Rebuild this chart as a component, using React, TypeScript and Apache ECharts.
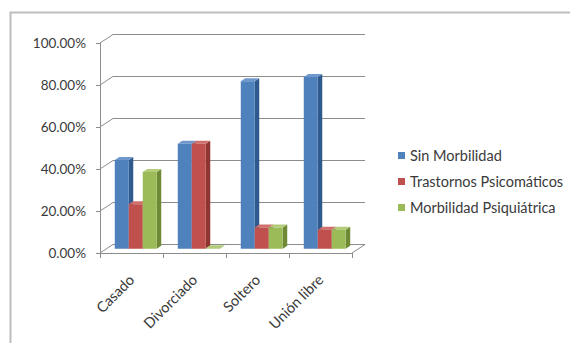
import React, { useEffect, useRef } from "react";
import * as echarts from "echarts";

const categories = ["Casado", "Divorciado", "Soltero", "Unión libre"];
const seriesNames = ["Sin Morbilidad", "Trastornos Psicomáticos", "Morbilidad Psiquiátrica"];
const sinMorbilidad = [42.3, 50.0, 79.8, 81.8];
const trastornosPsicomaticos = [21.2, 50.0, 10.1, 9.1];
const morbilidadPsiquiatrica = [36.5, 0.0, 10.1, 9.1];
const yTicks = [0, 20, 40, 60, 80, 100];

// front, side, top shades for each series
const palette = [
  { front: "#4F81BD", side: "#2F5A8E", top: "#6F98CC" },
  { front: "#C0504D", side: "#8E3431", top: "#D0706D" },
  { front: "#9BBB59", side: "#6F8A35", top: "#B2CC7A" },
];

// depth of the bars and of the plot walls
const BAR_DX = 4.5;
const BAR_DY = 3;
const WALL_DX = 13;
const WALL_DY = 8.5;

const FONT = "Lato, 'Open Sans', sans-serif";
const TEXT = "#3a3a3a";
const LINE = "#8c8c8c";

function barRenderer(index: number) {
  const c = palette[index];
  return (params: any, api: any) => {
    const cat = api.value(0);
    const val = api.value(1);
    const base = api.coord([cat, 0]);
    const topPt = api.coord([cat, val]);
    const band = api.size([1, 0])[0];
    const w = band * 0.222;
    const groupLeft = base[0] - (3 * w) / 2 - BAR_DX / 2;
    const x0 = groupLeft + index * w;
    const x1 = x0 + w;
    const yb = base[1];
    const yt = Math.min(topPt[1], yb - 0.5);
    return {
      type: "group",
      children: [
        {
          type: "polygon",
          shape: { points: [[x1, yt], [x1 + BAR_DX, yt - BAR_DY], [x1 + BAR_DX, yb - BAR_DY], [x1, yb]] },
          style: { fill: c.side },
        },
        {
          type: "polygon",
          shape: { points: [[x0, yt], [x0 + BAR_DX, yt - BAR_DY], [x1 + BAR_DX, yt - BAR_DY], [x1, yt]] },
          style: { fill: c.top },
        },
        {
          type: "rect",
          shape: { x: x0, y: yt, width: w, height: yb - yt },
          style: { fill: c.front },
        },
      ],
    };
  };
}

function wallRenderer(params: any, api: any) {
  const v = api.value(1);
  const y = api.coord([0, v])[1];
  const cs = params.coordSys;
  const children: any[] = [
    {
      type: "line",
      shape: { x1: cs.x, y1: y, x2: cs.x + WALL_DX, y2: y - WALL_DY },
      style: { stroke: LINE, lineWidth: 1 },
    },
  ];
  if (v === 0) {
    children.push({
      type: "line",
      shape: { x1: cs.x + cs.width, y1: y, x2: cs.x + cs.width + WALL_DX, y2: y - WALL_DY },
      style: { stroke: LINE, lineWidth: 1 },
    });
  }
  return { type: "group", children };
}

export default function App() {
  const ref = useRef<HTMLDivElement>(null);

  useEffect(() => {
    document.body.style.margin = "0";
    if (!ref.current) return;
    const chart = echarts.init(ref.current, undefined, { renderer: "svg" });
    const values = [sinMorbilidad, trastornosPsicomaticos, morbilidadPsiquiatrica];

    const frontGrid = { left: 100, right: 218, top: 43, bottom: 90 };
    const backGrid = { left: 100 + WALL_DX, right: 218 - WALL_DX, top: 43 - WALL_DY, bottom: 90 + WALL_DY };
    const midGrid = {
      left: 100 + WALL_DX / 2,
      right: 218 - WALL_DX / 2,
      top: 43 - WALL_DY / 2,
      bottom: 90 + WALL_DY / 2,
    };

    chart.setOption({
      animation: false,
      backgroundColor: "#ffffff",
      textStyle: { fontFamily: FONT },
      graphic: [
        {
          type: "rect",
          shape: { x: 10.5, y: 12.5, width: 580, height: 360 },
          style: { fill: "none", stroke: "#bdbdbd", lineWidth: 2 },
          silent: true,
        },
      ],
      legend: {
        orient: "vertical",
        left: 393,
        top: 143,
        itemWidth: 7,
        itemHeight: 7,
        itemGap: 11,
        icon: "rect",
        data: seriesNames,
        textStyle: { color: TEXT, fontFamily: FONT, fontSize: 14.5, padding: [0, 0, 0, 0] },
      },
      grid: [
        { ...backGrid, containLabel: false },
        { ...frontGrid, containLabel: false },
        { ...midGrid, containLabel: false },
      ],
      xAxis: [
        { gridIndex: 0, type: "category", data: categories, show: false },
        {
          gridIndex: 1,
          type: "category",
          data: categories,
          axisLine: { lineStyle: { color: LINE } },
          axisTick: { show: true, length: 5, alignWithLabel: false, lineStyle: { color: LINE } },
          axisLabel: { rotate: 45, color: TEXT, fontSize: 14.5, fontFamily: FONT, margin: 24, interval: 0 },
        },
        { gridIndex: 2, type: "category", data: categories, show: false },
      ],
      yAxis: [
        {
          gridIndex: 0,
          type: "value",
          min: 0,
          max: 100,
          interval: 20,
          axisLine: { show: false },
          axisTick: { show: false },
          axisLabel: { show: false },
          splitLine: { show: true, lineStyle: { color: LINE, width: 1 } },
        },
        {
          gridIndex: 1,
          type: "value",
          min: 0,
          max: 100,
          interval: 20,
          axisLine: { show: true, lineStyle: { color: LINE } },
          axisTick: { show: true, length: 4, lineStyle: { color: LINE } },
          axisLabel: {
            color: TEXT,
            fontSize: 13.5,
            fontFamily: FONT,
            margin: 14,
            formatter: (v: number) => v.toFixed(2) + "%",
          },
          splitLine: { show: false },
        },
        { gridIndex: 2, type: "value", min: 0, max: 100, show: false },
      ],
      series: [
        {
          type: "custom",
          name: "walls",
          xAxisIndex: 1,
          yAxisIndex: 1,
          renderItem: wallRenderer,
          data: yTicks.map((t) => [0, t]),
          encode: { x: 0, y: 1 },
          silent: true,
          z: 1,
        },
        ...seriesNames.map((name, i) => ({
          type: "custom",
          name,
          xAxisIndex: 2,
          yAxisIndex: 2,
          itemStyle: { color: palette[i].front },
          renderItem: barRenderer(i),
          data: values[i].map((v, k) => [k, v]),
          encode: { x: 0, y: 1 },
          z: 3 + i,
        })),
      ],
    });

    return () => chart.dispose();
  }, []);

  return <div ref={ref} style={{ width: 570, height: 343 }} />;
}
